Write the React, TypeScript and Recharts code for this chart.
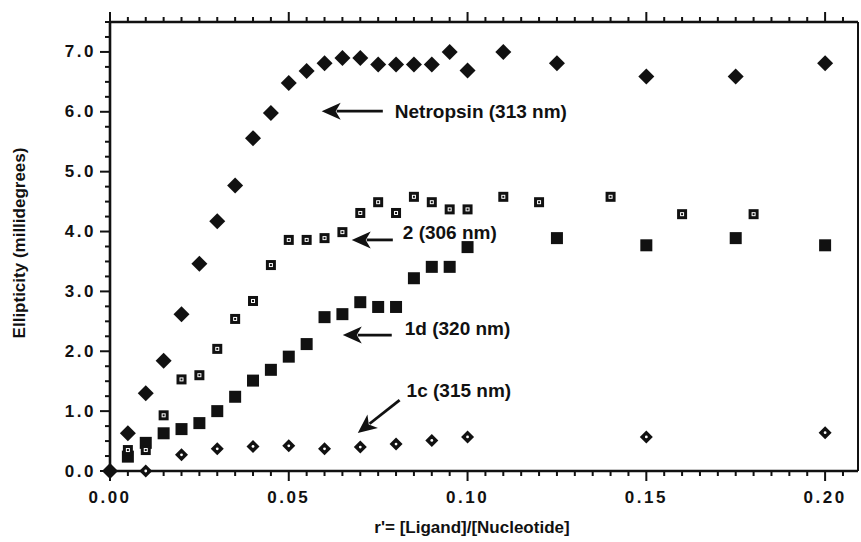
import { ScatterChart, Scatter, XAxis, YAxis, ReferenceLine, Label } from "recharts";

// Netropsin (313 nm) - large filled diamonds
const netropsinX = [0, 0.005, 0.01, 0.015, 0.02, 0.025, 0.03, 0.035, 0.04, 0.045, 0.05, 0.055, 0.06, 0.065, 0.07, 0.075, 0.08, 0.085, 0.09, 0.095, 0.1, 0.11, 0.125, 0.15, 0.175, 0.2];
const netropsinY = [0, 0.63, 1.3, 1.84, 2.62, 3.46, 4.17, 4.77, 5.56, 5.98, 6.48, 6.68, 6.81, 6.9, 6.9, 6.79, 6.79, 6.79, 6.79, 7.0, 6.69, 7.0, 6.81, 6.59, 6.59, 6.81];

// 2 (306 nm) - small squares with white centre
const comp2X = [0.005, 0.01, 0.015, 0.02, 0.025, 0.03, 0.035, 0.04, 0.045, 0.05, 0.055, 0.06, 0.065, 0.07, 0.075, 0.08, 0.085, 0.09, 0.095, 0.1, 0.11, 0.12, 0.14, 0.16, 0.18];
const comp2Y = [0.35, 0.35, 0.93, 1.53, 1.6, 2.04, 2.54, 2.84, 3.44, 3.86, 3.86, 3.89, 3.99, 4.31, 4.49, 4.31, 4.58, 4.49, 4.37, 4.37, 4.58, 4.49, 4.58, 4.29, 4.29];

// 1d (320 nm) - filled squares
const comp1dX = [0.005, 0.01, 0.015, 0.02, 0.025, 0.03, 0.035, 0.04, 0.045, 0.05, 0.055, 0.06, 0.065, 0.07, 0.075, 0.08, 0.085, 0.09, 0.095, 0.1, 0.125, 0.15, 0.175, 0.2];
const comp1dY = [0.24, 0.47, 0.63, 0.7, 0.8, 1.0, 1.24, 1.51, 1.69, 1.91, 2.12, 2.57, 2.62, 2.82, 2.74, 2.74, 3.22, 3.41, 3.41, 3.74, 3.89, 3.77, 3.89, 3.77];

// 1c (315 nm) - small diamonds with white centre
const comp1cX = [0.01, 0.02, 0.03, 0.04, 0.05, 0.06, 0.07, 0.08, 0.09, 0.1, 0.15, 0.2];
const comp1cY = [0.0, 0.27, 0.37, 0.41, 0.42, 0.37, 0.4, 0.45, 0.51, 0.57, 0.57, 0.64];

const xMajorTicks = [0, 0.05, 0.1, 0.15, 0.2];
const yMajorTicks = [0, 1, 2, 3, 4, 5, 6, 7];

// arrow annotations: [tail, tip] in data units, label offset from tail
const annotations = [
  { text: "Netropsin (313 nm)", tail: { x: 0.0763, y: 6.01 }, tip: { x: 0.0592, y: 6.01 }, dx: 12, dy: 0 },
  { text: "2 (306 nm)", tail: { x: 0.0791, y: 3.86 }, tip: { x: 0.0676, y: 3.86 }, dx: 10, dy: -7 },
  { text: "1d (320 nm)", tail: { x: 0.0788, y: 2.27 }, tip: { x: 0.0651, y: 2.27 }, dx: 13, dy: -7 },
  { text: "1c (315 nm)", tail: { x: 0.081, y: 1.185 }, tip: { x: 0.0693, y: 0.634 }, dx: 7, dy: -10 }
];

const zip = (xs: number[], ys: number[]) => xs.map((x, i) => ({ x, y: ys[i] }));

const X_MAX = 0.2092;
const Y_MAX = 7.5;
const xMinorTicks: number[] = [];
for (let i = 0; i * 0.005 <= X_MAX; i++) xMinorTicks.push(+(i * 0.005).toFixed(3));
const yMinorTicks: number[] = [];
for (let i = 0; i * 0.25 <= Y_MAX; i++) yMinorTicks.push(i * 0.25);

const FONT = "'Liberation Sans', Arial, Helvetica, sans-serif";
const INK = "#111";

const isIn = (v: number, arr: number[]) => arr.some((t) => Math.abs(t - v) < 1e-6);

// tick labels only; tick marks are drawn with reference lines below
const bottomLabel = (props: any) => (
  <text x={props.x} y={Number(props.y) + 26} textAnchor="middle" dominantBaseline="central" fontFamily={FONT} fontWeight="bold" fontSize={17} letterSpacing={2.5} fill={INK}>
    {props.payload.value.toFixed(2)}
  </text>
);

const leftLabel = (props: any) => (
  <text x={Number(props.x) - 14} y={props.y} textAnchor="end" dominantBaseline="central" fontFamily={FONT} fontWeight="bold" fontSize={17} letterSpacing={2.5} fill={INK}>
    {props.payload.value.toFixed(1)}
  </text>
);

function XTickMark({ x1, y1, y2, major }: any) {
  const top = Math.min(y1, y2);
  const bot = Math.max(y1, y2);
  const len = major ? 10 : 5;
  return <path d={`M${x1},${bot}V${bot + len}M${x1},${top}V${top - len}`} stroke={INK} strokeWidth={2} fill="none" />;
}

function YTickMark({ x1, x2, y1, major }: any) {
  const left = Math.min(x1, x2);
  const len = major ? 10 : 5;
  return <path d={`M${left},${y1}H${left - len}`} stroke={INK} strokeWidth={2} fill="none" />;
}

function BigDiamond({ cx, cy }: any) {
  const r = 8;
  return <polygon points={`${cx},${cy - r} ${cx + r},${cy} ${cx},${cy + r} ${cx - r},${cy}`} fill={INK} />;
}

function SmallDiamond({ cx, cy }: any) {
  const r = 6.5;
  return (
    <g>
      <polygon points={`${cx},${cy - r} ${cx + r},${cy} ${cx},${cy + r} ${cx - r},${cy}`} fill={INK} />
      <circle cx={cx} cy={cy} r={1.4} fill="#fff" />
    </g>
  );
}

function OpenSquare({ cx, cy }: any) {
  const h = 5;
  return (
    <g>
      <rect x={cx - h} y={cy - h} width={2 * h} height={2 * h} fill={INK} />
      <rect x={cx - 1.5} y={cy - 1.5} width={3} height={3} fill="none" stroke="#fff" strokeWidth={1} />
    </g>
  );
}

function FilledSquare({ cx, cy }: any) {
  const h = 6;
  return <rect x={cx - h} y={cy - h} width={2 * h} height={2 * h} fill={INK} />;
}

function ArrowShape({ x1, y1, x2, y2, text, dx, dy }: any) {
  const ang = Math.atan2(y2 - y1, x2 - x1);
  const L = 19;
  const W = 8.5;
  const c = Math.cos(ang);
  const s = Math.sin(ang);
  const bx = x2 - L * c;
  const by = y2 - L * s;
  const px = -s * W;
  const py = c * W;
  return (
    <g>
      <line x1={x1} y1={y1} x2={bx + 4 * c} y2={by + 4 * s} stroke={INK} strokeWidth={2.8} />
      <polygon points={`${x2},${y2} ${bx + px},${by + py} ${bx + 5 * c},${by + 5 * s} ${bx - px},${by - py}`} fill={INK} />
      <text x={x1 + dx} y={y1 + dy} dominantBaseline="central" fontFamily={FONT} fontWeight="bold" fontSize={19} fill={INK}>
        {text}
      </text>
    </g>
  );
}

const axisLineStyle = { stroke: INK, strokeWidth: 2.6 };

export default function App() {
  return (
    <div style={{ position: "absolute", left: 0, top: 0, background: "#fff" }}>
      <ScatterChart width={861} height={542} margin={{ top: 0, right: 0, bottom: 31, left: 0 }}>
        <XAxis
          xAxisId={0}
          dataKey="x"
          type="number"
          domain={[0, X_MAX]}
          ticks={xMajorTicks}
          interval={0}
          tickSize={0}
          tickMargin={0}
          tickLine={false}
          tick={bottomLabel}
          height={40}
          axisLine={axisLineStyle}
        >
          <Label
            content={() => (
              <text x={472} y={527} textAnchor="middle" dominantBaseline="central" fontFamily={FONT} fontWeight="bold" fontSize={17} fill={INK}>
                r'= [Ligand]/[Nucleotide]
              </text>
            )}
          />
        </XAxis>
        <XAxis
          xAxisId="top"
          orientation="top"
          dataKey="x"
          type="number"
          domain={[0, X_MAX]}
          tick={false}
          tickLine={false}
          height={22}
          axisLine={axisLineStyle}
        />
        <YAxis
          yAxisId={0}
          dataKey="y"
          type="number"
          domain={[0, Y_MAX]}
          ticks={yMajorTicks}
          interval={0}
          tickSize={0}
          tickMargin={0}
          tickLine={false}
          tick={leftLabel}
          width={110}
          axisLine={axisLineStyle}
        >
          <Label
            content={() => (
              <text x={19} y={243} transform="rotate(-90 19 243)" textAnchor="middle" dominantBaseline="central" fontFamily={FONT} fontWeight="bold" fontSize={17} fill={INK}>
                Ellipticity (millidegrees)
              </text>
            )}
          />
        </YAxis>
        <YAxis
          yAxisId="r"
          orientation="right"
          dataKey="y"
          type="number"
          domain={[0, Y_MAX]}
          tick={false}
          tickLine={false}
          width={3}
          axisLine={{ stroke: INK, strokeWidth: 2 }}
        />
        {xMinorTicks.map((v) => (
          <ReferenceLine key={`xt-${v}`} x={v} shape={(p: any) => <XTickMark {...p} major={isIn(v, xMajorTicks)} />} />
        ))}
        {yMinorTicks.map((v) => (
          <ReferenceLine key={`yt-${v}`} y={v} shape={(p: any) => <YTickMark {...p} major={isIn(v, yMajorTicks)} />} />
        ))}
        <Scatter name="1c (315 nm)" data={zip(comp1cX, comp1cY)} shape={<SmallDiamond />} isAnimationActive={false} />
        <Scatter name="1d (320 nm)" data={zip(comp1dX, comp1dY)} shape={<FilledSquare />} isAnimationActive={false} />
        <Scatter name="2 (306 nm)" data={zip(comp2X, comp2Y)} shape={<OpenSquare />} isAnimationActive={false} />
        <Scatter name="Netropsin (313 nm)" data={zip(netropsinX, netropsinY)} shape={<BigDiamond />} isAnimationActive={false} />
        {/* invisible copy so the top and right frame axes get drawn */}
        <Scatter xAxisId="top" yAxisId="r" data={zip(netropsinX, netropsinY)} shape={() => <g />} isAnimationActive={false} />
        {annotations.map((a) => (
          <ReferenceLine
            key={a.text}
            segment={[a.tail, a.tip]}
            shape={(p: any) => <ArrowShape {...p} text={a.text} dx={a.dx} dy={a.dy} />}
          />
        ))}
      </ScatterChart>
    </div>
  );
}
